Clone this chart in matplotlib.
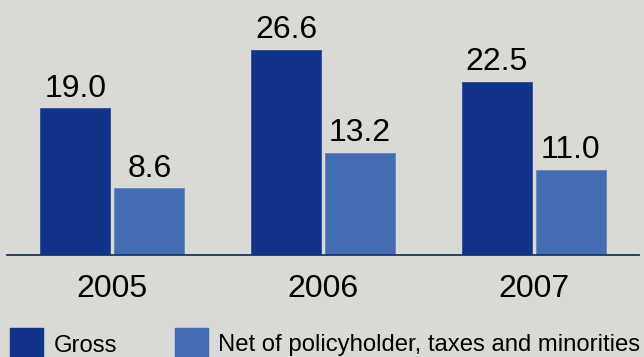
import matplotlib.pyplot as plt
import numpy as np
from matplotlib.patches import Rectangle

plt.rcParams['font.family'] = ['Liberation Sans', 'DejaVu Sans']

years = ['2005', '2006', '2007']
gross = [19.0, 26.6, 22.5]
net = [8.6, 13.2, 11.0]
series_labels = ['Gross', 'Net of policyholder, taxes and minorities']

BG = '#d9d9d5'
DARK = '#12338a'
LIGHT = '#446cb3'
W, H = 644, 357

fig = plt.figure(figsize=(W / 100, H / 100), dpi=100, facecolor=BG)
# axes spans the baseline line and everything above it
ax = fig.add_axes([7 / W, 102.5 / H, 632 / W, 254.5 / H])
ax.set_facecolor(BG)

x = np.arange(len(years))
w = 70 / 210.7
off = 37 / 210.7
bars_g = ax.bar(x - off, gross, width=w, color=DARK, edgecolor='#2a4a9c',
                linewidth=0.6, label=series_labels[0])
bars_n = ax.bar(x + off, net, width=w, color=LIGHT, edgecolor='#6485c4',
                linewidth=0.6, label=series_labels[1])

for bars in (bars_g, bars_n):
    for b in bars:
        h = b.get_height()
        ax.annotate(f'{h:.1f}', (b.get_x() + b.get_width() / 2, h),
                    xytext=(0, 3.5), textcoords='offset points',
                    ha='center', va='bottom', fontsize=23, color='black')

ax.set_xlim(-0.5, 2.5)
ax.set_ylim(0, 33.1)
for s in ('top', 'right', 'left'):
    ax.spines[s].set_visible(False)
ax.spines['bottom'].set_color('#1f3566')
ax.spines['bottom'].set_linewidth(1.3)
ax.set_yticks([])
ax.set_xticks(x)
ax.set_xticklabels(years, fontsize=23)
ax.tick_params(axis='x', length=0, pad=14)

# legend keys along the bottom edge (squares run off the figure)
legend_x = [(10, 54), (175, 218)]
for (sx, tx), label, color in zip(legend_x, series_labels, [DARK, LIGHT]):
    fig.patches.append(Rectangle((sx / W, -4 / H), 33 / W, 33 / H,
                                 transform=fig.transFigure, color=color))
    fig.text(tx / W, 5.5 / H, label, fontsize=17.2, va='baseline', ha='left')

fig.savefig('out.png', dpi=100, facecolor=BG)
